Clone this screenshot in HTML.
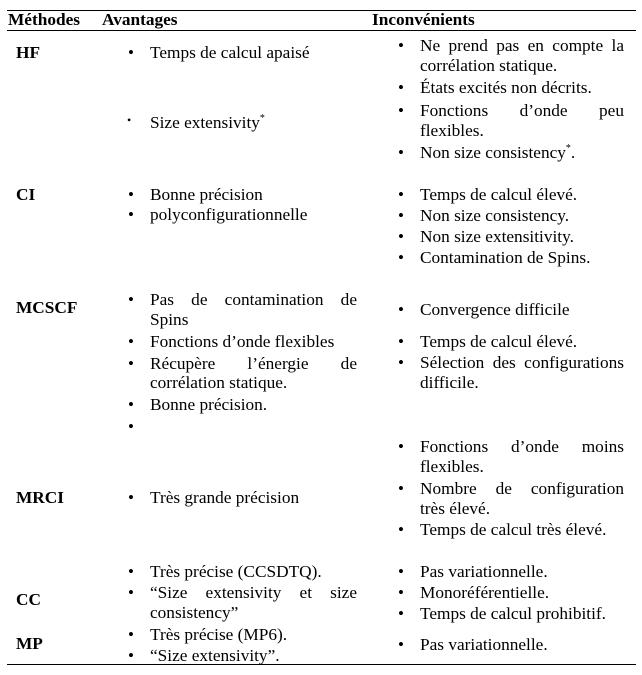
<!DOCTYPE html>
<html><head><meta charset="utf-8">
<style>
body{margin:0;width:642px;height:675px;background:#fff;position:relative;font-family:"Liberation Serif",serif;font-size:17.3px;color:#000;overflow:hidden}
.t{position:absolute;white-space:nowrap;line-height:20px}
.j{text-align:justify;text-align-last:justify;white-space:normal}
.b{font-weight:bold}
.rule{position:absolute;left:7px;width:629px;background:#000}
.bl{position:absolute;font-size:17px;line-height:20px}
sup{font-size:10px;line-height:0}
</style></head><body>
<div class="rule" style="top:10px;height:1px"></div>
<div class="rule" style="top:30px;height:1px"></div>
<div class="rule" style="top:664px;height:1px"></div>

<div class="t b" style="left:8px;top:10px">Méthodes</div>
<div class="t b" style="left:102px;top:10px">Avantages</div>
<div class="t b" style="left:372px;top:10px">Inconvénients</div>

<div class="t b" style="left:16px;top:43px">HF</div>
<div class="t b" style="left:16px;top:185px">CI</div>
<div class="t b" style="left:16px;top:298px">MCSCF</div>
<div class="t b" style="left:16px;top:488px">MRCI</div>
<div class="t b" style="left:16px;top:590px">CC</div>
<div class="t b" style="left:16px;top:634px">MP</div>

<!-- Avantages -->
<div class="bl" style="left:128px;top:43px">•</div><div class="t" style="left:150px;top:43px">Temps de calcul apaisé</div>
<div class="bl" style="left:127px;top:110px;font-size:12px">•</div><div class="t" style="left:150px;top:113px">Size extensivity<sup>*</sup></div>

<div class="bl" style="left:128px;top:185px">•</div><div class="t" style="left:150px;top:185px">Bonne précision</div>
<div class="bl" style="left:128px;top:205px">•</div><div class="t" style="left:150px;top:205px">polyconfigurationnelle</div>

<div class="bl" style="left:128px;top:290px">•</div><div class="t j" style="left:150px;top:290px;width:207px">Pas de contamination de</div>
<div class="t" style="left:150px;top:310px">Spins</div>
<div class="bl" style="left:128px;top:332px">•</div><div class="t" style="left:150px;top:332px">Fonctions d’onde flexibles</div>
<div class="bl" style="left:128px;top:354px">•</div><div class="t j" style="left:150px;top:354px;width:207px">Récupère l’énergie de</div>
<div class="t" style="left:150px;top:373px">corrélation statique.</div>
<div class="bl" style="left:128px;top:395px">•</div><div class="t" style="left:150px;top:395px">Bonne précision.</div>
<div class="bl" style="left:128px;top:417px">•</div>

<div class="bl" style="left:128px;top:488px">•</div><div class="t" style="left:150px;top:488px">Très grande précision</div>

<div class="bl" style="left:128px;top:562px">•</div><div class="t" style="left:150px;top:562px">Très précise (CCSDTQ).</div>
<div class="bl" style="left:128px;top:583px">•</div><div class="t j" style="left:150px;top:583px;width:207px">“Size extensivity et size</div>
<div class="t" style="left:150px;top:603px">consistency”</div>

<div class="bl" style="left:128px;top:625px">•</div><div class="t" style="left:150px;top:625px">Très précise (MP6).</div>
<div class="bl" style="left:128px;top:646px">•</div><div class="t" style="left:150px;top:646px">“Size extensivity”.</div>

<!-- Inconvénients -->
<div class="bl" style="left:398px;top:36px">•</div><div class="t j" style="left:420px;top:36px;width:204px">Ne prend pas en compte la</div>
<div class="t" style="left:420px;top:56px">corrélation statique.</div>
<div class="bl" style="left:398px;top:78px">•</div><div class="t" style="left:420px;top:78px">États excités non décrits.</div>
<div class="bl" style="left:398px;top:101px">•</div><div class="t j" style="left:420px;top:101px;width:204px">Fonctions d’onde peu</div>
<div class="t" style="left:420px;top:121px">flexibles.</div>
<div class="bl" style="left:398px;top:143px">•</div><div class="t" style="left:420px;top:143px">Non size consistency<sup>*</sup>.</div>

<div class="bl" style="left:398px;top:185px">•</div><div class="t" style="left:420px;top:185px">Temps de calcul élevé.</div>
<div class="bl" style="left:398px;top:206px">•</div><div class="t" style="left:420px;top:206px">Non size consistency.</div>
<div class="bl" style="left:398px;top:227px">•</div><div class="t" style="left:420px;top:227px">Non size extensitivity.</div>
<div class="bl" style="left:398px;top:248px">•</div><div class="t" style="left:420px;top:248px">Contamination de Spins.</div>

<div class="bl" style="left:398px;top:300px">•</div><div class="t" style="left:420px;top:300px">Convergence difficile</div>
<div class="bl" style="left:398px;top:332px">•</div><div class="t" style="left:420px;top:332px">Temps de calcul élevé.</div>
<div class="bl" style="left:398px;top:353px">•</div><div class="t j" style="left:420px;top:353px;width:204px">Sélection des configurations</div>
<div class="t" style="left:420px;top:373px">difficile.</div>

<div class="bl" style="left:398px;top:437px">•</div><div class="t j" style="left:420px;top:437px;width:204px">Fonctions d’onde moins</div>
<div class="t" style="left:420px;top:457px">flexibles.</div>
<div class="bl" style="left:398px;top:479px">•</div><div class="t j" style="left:420px;top:479px;width:204px">Nombre de configuration</div>
<div class="t" style="left:420px;top:499px">très élevé.</div>
<div class="bl" style="left:398px;top:520px">•</div><div class="t" style="left:420px;top:520px">Temps de calcul très élevé.</div>

<div class="bl" style="left:398px;top:562px">•</div><div class="t" style="left:420px;top:562px">Pas variationnelle.</div>
<div class="bl" style="left:398px;top:583px">•</div><div class="t" style="left:420px;top:583px">Monoréférentielle.</div>
<div class="bl" style="left:398px;top:604px">•</div><div class="t" style="left:420px;top:604px">Temps de calcul prohibitif.</div>

<div class="bl" style="left:398px;top:635px">•</div><div class="t" style="left:420px;top:635px">Pas variationnelle.</div>
</body></html>
